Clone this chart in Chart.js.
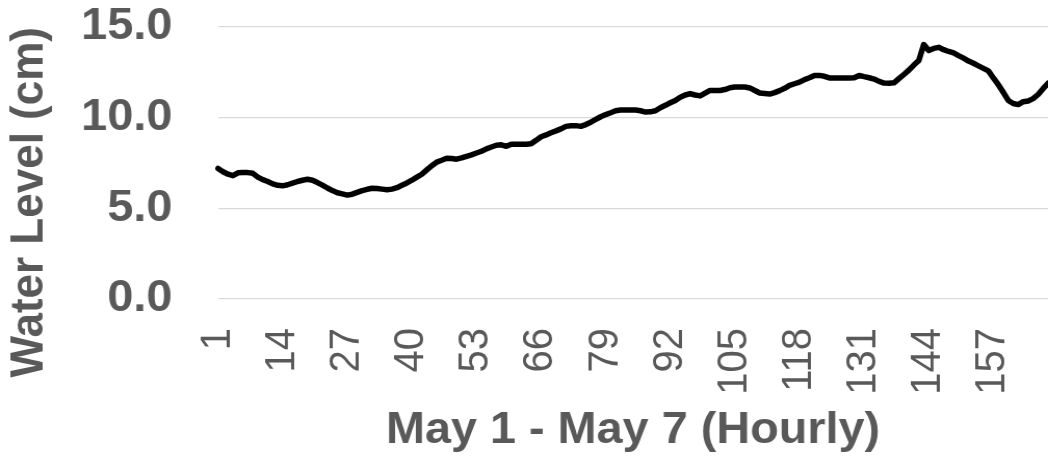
<!DOCTYPE html>
<html>
<head>
<meta charset="utf-8">
<script src="https://cdn.jsdelivr.net/npm/chart.js@4.4.1/dist/chart.umd.min.js"></script>
<style>
html,body{margin:0;padding:0;background:#fff;overflow:hidden}
canvas{display:block}
</style>
</head>
<body>
<canvas id="c" width="1008" height="456" style="width:1048px;height:456px"></canvas>
<script>
// Hourly categories, May 1 - May 7
const hours = Array.from({length: 168}, (_, i) => String(i + 1));
// Category labels that are shown on the x axis
const tickLabels = ['1','14','27','40','53','66','79','92','105','118','131','144','157'];
// Y axis tick values
const yTicks = [0, 5, 10, 15];
// Water level (cm)
const waterLevel = [
  7.20, 7.02, 6.88, 6.80, 6.96, 6.97, 6.97, 6.93, 6.72, 6.58,
  6.48, 6.35, 6.27, 6.24, 6.30, 6.39, 6.48, 6.55, 6.60, 6.55,
  6.42, 6.28, 6.12, 5.98, 5.86, 5.80, 5.73, 5.78, 5.88, 5.98,
  6.05, 6.11, 6.09, 6.06, 6.03, 6.06, 6.14, 6.27, 6.40, 6.55,
  6.72, 6.88, 7.12, 7.35, 7.55, 7.65, 7.76, 7.75, 7.71, 7.78,
  7.87, 7.95, 8.05, 8.15, 8.28, 8.38, 8.48, 8.50, 8.42, 8.54,
  8.54, 8.54, 8.54, 8.56, 8.75, 8.95, 9.05, 9.17, 9.27, 9.38,
  9.52, 9.55, 9.56, 9.52, 9.62, 9.75, 9.90, 10.05, 10.17, 10.27,
  10.38, 10.42, 10.42, 10.42, 10.42, 10.38, 10.31, 10.32, 10.38, 10.55,
  10.68, 10.82, 10.95, 11.13, 11.25, 11.33, 11.25, 11.20, 11.35, 11.50,
  11.50, 11.50, 11.55, 11.65, 11.69, 11.69, 11.69, 11.64, 11.50, 11.36,
  11.33, 11.30, 11.38, 11.49, 11.62, 11.78, 11.87, 11.96, 12.10, 12.20,
  12.33, 12.33, 12.28, 12.19, 12.19, 12.19, 12.19, 12.19, 12.20, 12.33,
  12.26, 12.20, 12.13, 12.00, 11.91, 11.90, 11.92, 12.15, 12.38, 12.62,
  12.90, 13.15, 14.03, 13.70, 13.82, 13.88, 13.75, 13.65, 13.57, 13.42,
  13.28, 13.12, 13.00, 12.86, 12.72, 12.58, 12.19, 11.82, 11.40, 10.95,
  10.78, 10.72, 10.88, 10.92, 11.05, 11.28, 11.60, 11.90
];

const FONT = '"Liberation Sans", Arial, Helvetica, sans-serif';
const GREY = '#595959';

new Chart(document.getElementById('c'), {
  type: 'line',
  data: {
    labels: hours,
    datasets: [{
      data: waterLevel,
      borderColor: '#000000',
      borderWidth: 5.5,
      pointRadius: 0,
      tension: 0,
      fill: false,
      borderJoinStyle: 'round',
      borderCapStyle: 'round'
    }]
  },
  options: {
    responsive: false,
    animation: false,
    devicePixelRatio: 1,
    events: [],
    layout: { padding: { top: 27, left: 0, right: 0, bottom: 0 } },
    plugins: { legend: { display: false }, tooltip: { enabled: false } },
    scales: {
      x: {
        offset: false,
        grid: { display: false, drawTicks: false },
        border: { display: false },
        ticks: {
          autoSkip: false,
          minRotation: 90,
          maxRotation: 90,
          padding: 29,
          color: GREY,
          font: { family: FONT, size: 40 },
          callback: function (value) {
            const l = this.getLabelForValue(value);
            return tickLabels.includes(l) ? l : '';
          }
        },
        title: {
          display: true,
          text: 'May 1 - May 7 (Hourly)',
          color: GREY,
          font: { family: FONT, size: 45, weight: 'bold', lineHeight: 1 },
          padding: { top: 0, bottom: 2.5 }
        },
        afterFit: function (scale) {
          scale.height = 157;
          scale.paddingLeft = 0;
          scale.paddingRight = 0;
        }
      },
      y: {
        min: yTicks[0],
        max: yTicks[yTicks.length - 1],
        afterBuildTicks: function (scale) {
          scale.ticks = yTicks.map(v => ({ value: v }));
        },
        grid: { color: '#d9d9d9', lineWidth: 1.3, drawTicks: false },
        border: { display: false },
        ticks: {
          padding: 44,
          color: GREY,
          font: { family: FONT, size: 45, weight: 'bold' },
          callback: v => Number(v).toFixed(1)
        },
        title: {
          display: true,
          text: 'Water Level (cm)',
          align: 'end',
          color: GREY,
          font: { family: FONT, size: 44, weight: 'bold', lineHeight: 1 },
          padding: { top: 7, bottom: 0 }
        },
        afterFit: function (scale) {
          scale.width = 209.7;
          scale.paddingTop = 0;
          scale.paddingBottom = 0;
        }
      }
    }
  }
});
</script>
</body>
</html>
